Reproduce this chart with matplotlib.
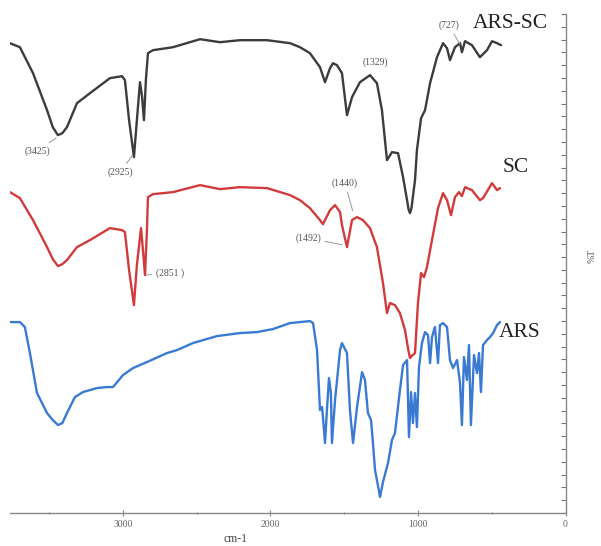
import matplotlib.pyplot as plt
import numpy as np

# Espectros FTIR (numero de onda em cm-1, %T em unidades arbitrarias)
wn_arssc = [3765, 3698, 3609, 3514, 3475, 3440, 3410, 3379, 3311, 3223, 3088, 3006, 2986, 2958,
            2925, 2905, 2884, 2871, 2857, 2844, 2830, 2796, 2660, 2477, 2342, 2206, 2023, 1867,
            1800, 1732, 1664, 1630, 1596, 1576, 1549, 1515, 1481, 1447, 1393, 1325, 1278, 1244,
            1210, 1176, 1135, 1101, 1074, 1064, 1054, 1044, 1020, 1007, 979, 952, 918, 871, 830,
            803, 783, 749, 715, 702, 681, 634, 580, 532, 498, 464, 437]
t_arssc = [470, 466, 440, 403, 386, 378, 380, 386, 410, 420, 435, 437, 433, 393,
           356, 393, 431, 418, 393, 433, 460, 463, 466, 474, 471, 473, 473, 470,
           466, 460, 446, 431, 445, 450, 448, 440, 398, 416, 431, 438, 430, 403,
           353, 361, 360, 336, 313, 304, 300, 305, 333, 363, 395, 403, 430, 456, 470,
           465, 453, 466, 470, 461, 472, 468, 456, 463, 472, 470, 468]

wn_sc = [3765, 3698, 3609, 3514, 3475, 3440, 3410, 3379, 3311, 3223, 3088, 3006, 2986, 2958,
         2925, 2905, 2877, 2864, 2850, 2837, 2830, 2796, 2660, 2477, 2342, 2206, 2023, 1867,
         1800, 1732, 1664, 1644, 1596, 1562, 1528, 1515, 1481, 1447, 1413, 1373, 1325, 1278,
         1237, 1210, 1190, 1156, 1122, 1088, 1064, 1054, 1044, 1020, 1000, 979, 959, 939, 905,
         864, 830, 803, 776, 749, 722, 702, 681, 634, 580, 559, 498, 464, 444]
t_sc = [321, 315, 293, 266, 254, 247, 249, 253, 266, 273, 285, 283, 281, 243,
        208, 248, 285, 263, 238, 283, 316, 319, 321, 328, 324, 326, 325, 318,
        313, 305, 293, 289, 303, 308, 301, 288, 266, 293, 296, 293, 285, 266,
        230, 200, 210, 208, 200, 183, 162, 155, 157, 160, 210, 240, 236, 246, 273,
        305, 320, 313, 298, 316, 321, 317, 326, 323, 313, 315, 330, 323, 325]

wn_ars = [3765, 3698, 3664, 3630, 3582, 3514, 3475, 3440, 3410, 3379, 3325, 3270, 3175, 3108,
          3067, 2999, 2931, 2837, 2701, 2633, 2525, 2362, 2206, 2091, 1983, 1867, 1800, 1732,
          1711, 1684, 1664, 1650, 1644, 1630, 1617, 1603, 1590, 1583, 1562, 1528, 1515, 1481,
          1461, 1440, 1413, 1379, 1359, 1339, 1318, 1305, 1291, 1278, 1257, 1237, 1203, 1176,
          1156, 1122, 1101, 1074, 1061, 1047, 1034, 1020, 1007, 993, 973, 952, 932, 918, 905,
          885, 864, 851, 830, 803, 783, 762, 735, 715, 702, 688, 668, 654, 641, 620, 600,
          586, 573, 559, 532, 512, 491, 464, 444]
t_ars = [191, 191, 186, 160, 120, 100, 93, 88, 90, 100, 116, 121, 125, 126,
         126, 138, 145, 151, 160, 163, 170, 177, 180, 181, 184, 190, 191, 192,
         190, 163, 103, 106, 96, 70, 103, 135, 120, 70, 113, 163, 170, 160,
         103, 70, 106, 141, 133, 100, 93, 70, 43, 33, 16, 31, 50, 73,
         80, 123, 148, 153, 76, 121, 90, 120, 86, 146, 170, 181, 178, 150, 176,
         186, 150, 188, 190, 186, 153, 145, 153, 130, 88, 156, 133, 168, 88, 158, 140,
         160, 121, 168, 173, 176, 180, 188, 191]

# Picos anotados: texto, posicao do texto, ponto indicado
picos = ["(3425)", "(2925)", "(2851 )", "(1329)", "(727)", "(1440)", "(1492)"]
pico_texto = [(3582, 362), (3020, 341), (2680, 240), (1291, 451), (790, 488), (1494, 330), (1745, 275)]
pico_ponto = [(3445, 376), (2928, 359), (2848, 238), None, (712, 468), (1440, 301), (1502, 268)]

nomes = ["ARS-SC", "SC", "ARS"]
nome_pos = [(376, 490), (335, 346), (308, 181)]
cores = ["#3c3c3c", "#d23b3b", "#3a7ad2"]

fig = plt.figure(figsize=(6.01, 5.46), dpi=100)
ax = fig.add_axes([10 / 601, 33 / 546, 555.5 / 601, 499 / 546])

for wn, t, cor in zip([wn_arssc, wn_sc, wn_ars], [t_arssc, t_sc, t_ars], cores):
    ax.plot(wn, t, color=cor, lw=1.7, solid_joinstyle="round", solid_capstyle="round")

for nome, pos in zip(nomes, nome_pos):
    ax.text(pos[0], pos[1], nome, fontsize=15.5, family="Liberation Serif",
            color="#222222", ha="center", va="center")

for txt, pt, alvo in zip(picos, pico_texto, pico_ponto):
    if alvo is None:
        ax.text(pt[0], pt[1], txt, fontsize=7, family="Liberation Serif",
                color="#555555", ha="center", va="center")
    else:
        ax.annotate(txt, xy=alvo, xytext=pt, fontsize=7, family="Liberation Serif",
                    color="#555555", ha="center", va="center",
                    arrowprops=dict(arrowstyle="-", color="#999999", lw=0.7,
                                    shrinkA=1, shrinkB=1))

ax.set_xlim(3765, 0)
ax.set_ylim(0, 499)
ax.set_xticks([3000, 2000, 1000, 0])
ax.set_xticks([3500, 2500, 1500, 500], minor=True)
ax.set_xticklabels(["3000", "2000", "1000", "0"], family="Liberation Serif",
                   fontsize=7, color="#666666")
ax.set_yticks(np.arange(0, 500, 12.8))
ax.yaxis.tick_right()
ax.tick_params(axis="y", direction="in", length=3.5, width=0.8, color="#777777",
               labelright=False)
ax.tick_params(axis="x", which="major", direction="inout", length=4, width=0.8,
               color="#888888", pad=3)
ax.tick_params(axis="x", which="minor", direction="inout", length=2, width=0.8,
               color="#888888")

for lado in ["left", "top"]:
    ax.spines[lado].set_visible(False)
for lado in ["right", "bottom"]:
    ax.spines[lado].set_color("#888888")
    ax.spines[lado].set_linewidth(1.0)

fig.text(236 / 601, 7 / 546, "cm-1", family="Liberation Serif", fontsize=8.5,
         color="#444444", ha="center", va="center")
fig.text(592 / 601, 290 / 546, "%T", family="Liberation Serif", fontsize=7,
         color="#555555", ha="center", va="center", rotation=90)

fig.savefig("out.png", dpi=100)
